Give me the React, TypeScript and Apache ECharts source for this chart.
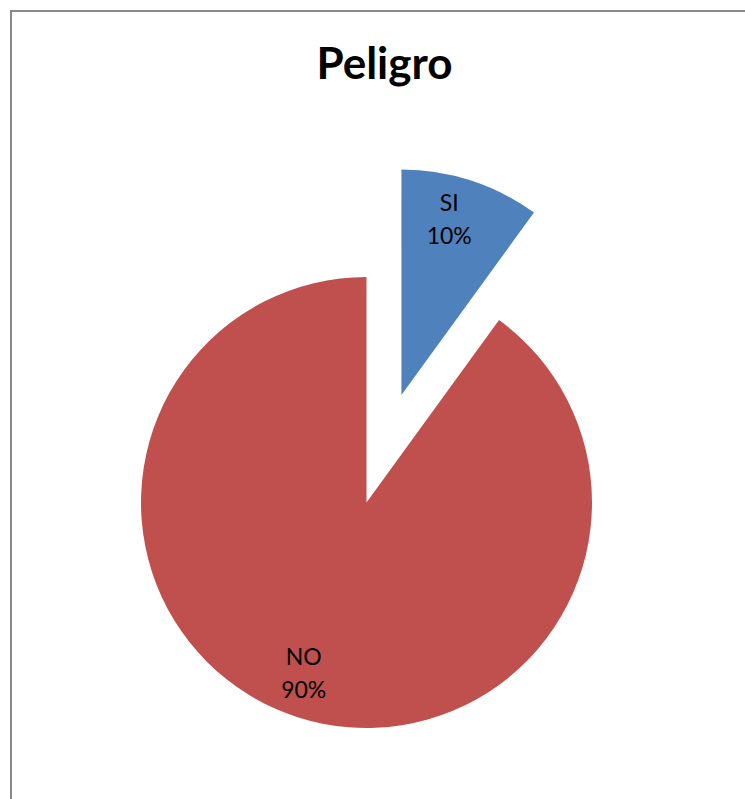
import React, { useEffect, useRef } from "react";
import * as echarts from "echarts";

const titleText = "Peligro";
const categories = ["SI", "NO"];
const values = [10, 90];
const colors = ["#4F81BD", "#C0504D"];
const explodedIndex = 0;
// label nudges (px) to mimic the original placement
const labelShift = [
  [12, -66],
  [-27, 60],
];

export default function App() {
  const ref = useRef<HTMLDivElement>(null);
  useEffect(() => {
    if (!ref.current) return;
    const chart = echarts.init(ref.current, undefined, { renderer: "svg" });
    const data = categories.map((name, i) => ({
      name,
      value: values[i],
      selected: i === explodedIndex,
      itemStyle: { color: colors[i] },
      select: { itemStyle: { color: colors[i] } },
    }));
    chart.setOption({
      animation: false,
      backgroundColor: "#ffffff",
      title: {
        text: titleText,
        left: 379.5,
        top: 35,
        textAlign: "center",
        textStyle: {
          fontFamily: "Lato",
          fontWeight: "bold",
          fontSize: 44,
          color: "#000000",
        },
      },
      graphic: [
        {
          type: "rect",
          shape: { x: 11, y: 11, width: 800, height: 800 },
          style: { fill: "none", stroke: "#8a8a8a", lineWidth: 2 },
          silent: true,
        },
      ],
      series: [
        {
          type: "pie",
          center: [366.5, 502.5],
          radius: 225.5,
          startAngle: 90,
          clockwise: true,
          selectedMode: "single",
          selectedOffset: 113,
          avoidLabelOverlap: false,
          data,
          itemStyle: { borderWidth: 0 },
          emphasis: { disabled: true },
          label: {
            show: true,
            position: "inside",
            formatter: "{b}\n{d}%",
            fontFamily: "Lato",
            fontSize: 23,
            lineHeight: 33,
            color: "#000000",
            align: "center",
          },
          labelLine: { show: false },
          labelLayout: (params: any) => ({
            dx: labelShift[params.dataIndex][0],
            dy: labelShift[params.dataIndex][1],
          }),
        },
      ],
    });
    return () => chart.dispose();
  }, []);
  return (
    <div
      ref={ref}
      style={{ position: "absolute", left: 0, top: 0, width: 745, height: 799 }}
    />
  );
}
